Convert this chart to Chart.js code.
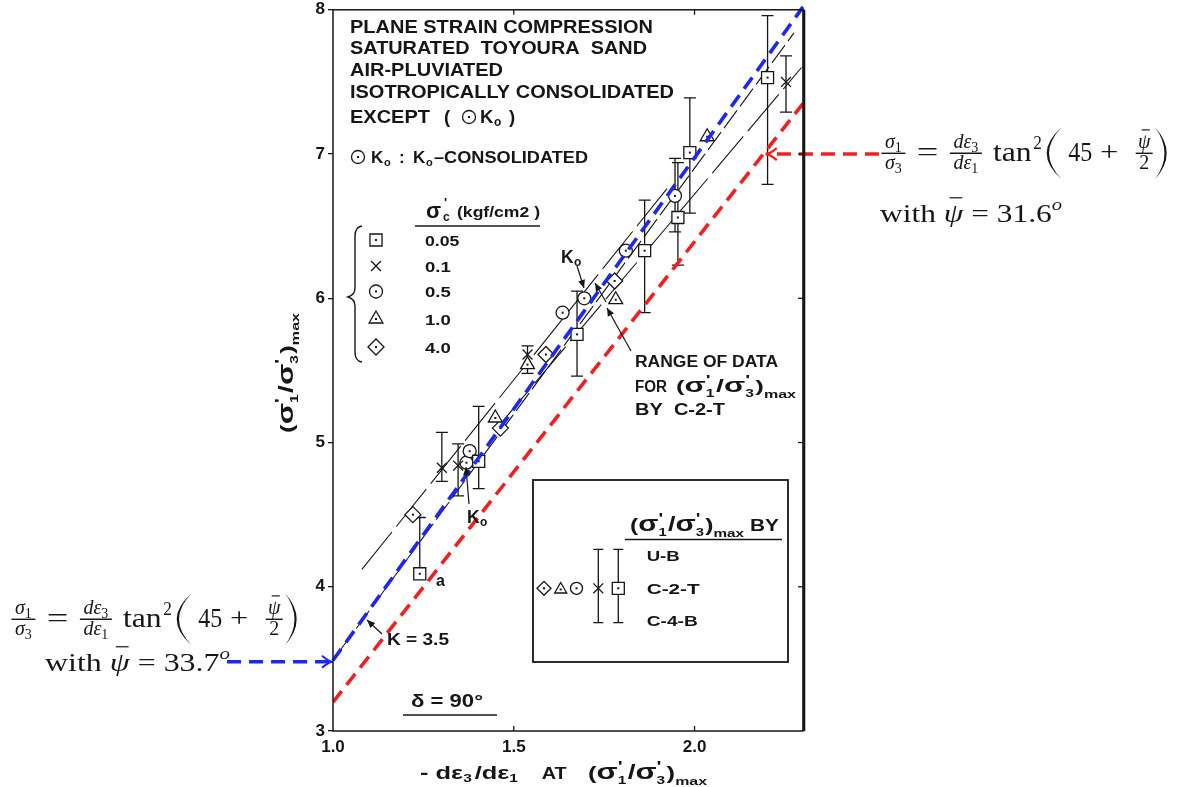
<!DOCTYPE html>
<html>
<head>
<meta charset="utf-8">
<title>Plane strain compression - Toyoura sand</title>
<script src="https://cdn.jsdelivr.net/npm/chart.js@4.4.1/dist/chart.umd.min.js"></script>
<style>
  html, body { margin: 0; padding: 0; background: #fff; }
  canvas { display: block; }
</style>
</head>
<body>
<canvas id="chart" width="1181" height="787"></canvas>
<script>
// axis ticks
const xTicks = [1.0, 1.5, 2.0];
const yTicks = [3, 4, 5, 6, 7, 8];

// confining stress classes (kgf/cm2)
const stressLabels = ['0.05', '0.1', '0.5', '1.0', '4.0'];

// -de3/de1 and (s1/s3)max, with the U-B / C-4-B bars
const sqX = [1.24, 1.403, 1.675, 1.862, 1.954, 1.987, 2.202];
const sqY = [4.09, 4.87, 5.75, 6.33, 6.56, 7.01, 7.53];
const sqLo = [4.09, 4.68, 5.46, 5.90, 6.23, 6.59, 6.79];
const sqHi = [4.48, 5.25, 6.05, 6.68, 6.94, 7.39, 7.96];

const crX = [1.301, 1.346, 1.538, 2.253];
const crY = [4.825, 4.84, 5.61, 7.50];
const crLo = [4.73, 4.63, 5.48, 7.29];
const crHi = [5.07, 4.99, 5.67, 7.68];

const ciX = [1.369, 1.378, 1.635, 1.695, 1.81, 1.946];
const ciY = [4.86, 4.94, 5.90, 6.00, 6.33, 6.71];
const ciLo = [null, null, null, null, null, 6.46];
const ciHi = [null, null, null, null, null, 6.97];

const trX = [1.449, 1.538, 1.782, 2.035];
const trY = [5.17, 5.54, 5.99, 7.12];

const diX = [1.221, 1.463, 1.589, 1.779];
const diY = [4.50, 5.10, 5.61, 6.12];

// flow rule lines (psi = 33.7 blue, 31.6 red) and the arrows pointing at them
const blueX = [1.0, 2.3], blueY = [3.49, 8.02];
const redX = [1.0, 2.3], redY = [3.2, 7.35];
const blueArrowX = [0.707, 1.0], blueArrowY = [3.48, 3.48];
const redArrowX = [2.51, 2.197], redArrowY = [7.0, 7.0];

// K = 3.5 line and the range of C-2-T data
const kX = [1.02, 2.275], kY = [3.56, 7.84];
const upX = [1.08, 1.93], upY = [4.12, 6.78];
const loX = [1.46, 2.296], loY = [5.12, 7.60];

const INK = '#161616';
const BLUE = 'rgb(28,40,235)';
const RED = 'rgb(240,32,32)';

const pts = (xs, ys) => xs.map((x, i) => ({ x: x, y: ys[i] }));
const B = s => 'bold ' + s + 'px "Liberation Sans"';
const rm = s => s + 'px "Liberation Serif"';
const it = s => 'italic ' + s + 'px "Liberation Serif"';

function drawSym(ctx, style, x, y, r, dot) {
  ctx.save();
  ctx.strokeStyle = INK;
  ctx.lineWidth = 1.3;
  ctx.beginPath();
  if (style === 'rect') {
    const h = r * Math.SQRT1_2;
    ctx.rect(x - h, y - h, 2 * h, 2 * h);
  } else if (style === 'circle') {
    ctx.arc(x, y, r, 0, 2 * Math.PI);
  } else if (style === 'triangle') {
    ctx.moveTo(x, y - r);
    ctx.lineTo(x + r * 0.866, y + r * 0.5);
    ctx.lineTo(x - r * 0.866, y + r * 0.5);
    ctx.closePath();
  } else if (style === 'rectRot') {
    ctx.moveTo(x - r, y); ctx.lineTo(x, y - r); ctx.lineTo(x + r, y); ctx.lineTo(x, y + r);
    ctx.closePath();
  } else if (style === 'crossRot') {
    const c = r * Math.SQRT1_2;
    ctx.moveTo(x - c, y - c); ctx.lineTo(x + c, y + c);
    ctx.moveTo(x + c, y - c); ctx.lineTo(x - c, y + c);
  }
  if (style !== 'crossRot') { ctx.fillStyle = '#fff'; ctx.fill(); }
  ctx.stroke();
  if (dot) { ctx.fillStyle = INK; ctx.fillRect(x - 1, y - 1, 2, 2); }
  ctx.restore();
}

// text scaled horizontally to a given width
function fitText(ctx, s, x, y, font, w) {
  ctx.save();
  ctx.font = font;
  const nat = ctx.measureText(s).width;
  const k = w ? w / nat : 1;
  ctx.translate(x, y);
  ctx.scale(k, 1);
  ctx.fillText(s, 0, 0);
  ctx.restore();
  return nat * k;
}

function partsWidth(ctx, parts) {
  const ws = parts.map(p => {
    ctx.font = p.f;
    let pw = ctx.measureText(p.t).width;
    if (p.stack) { ctx.font = p.sf; pw = Math.max(pw, ctx.measureText(p.stack).width); }
    return pw + (p.gap || 0);
  });
  return ws;
}

function drawParts(ctx, parts, x, y, w) {
  const ws = partsWidth(ctx, parts);
  const tot = ws.reduce((a, b) => a + b, 0);
  const k = w ? w / tot : 1;
  ctx.save();
  ctx.translate(x, y);
  ctx.scale(k, 1);
  let cx = 0;
  parts.forEach((p, i) => {
    ctx.font = p.f;
    ctx.fillText(p.t, cx, p.dy || 0);
    if (p.stack) { ctx.font = p.sf; ctx.fillText(p.stack, cx, p.sdy); }
    if (p.bar) {
      ctx.lineWidth = 1.2;
      ctx.beginPath();
      ctx.moveTo(cx + ws[i] * 0.3, -p.sz * 0.92);
      ctx.lineTo(cx + ws[i] * 0.95, -p.sz * 0.92);
      ctx.stroke();
    }
    cx += ws[i];
  });
  ctx.restore();
  return tot * k;
}

// (s'1/s'3)max
function ratioParts(sz) {
  return [
    { t: '(', f: B(sz) },
    { t: 'σ', f: B(sz * 1.2) },
    { t: "'", f: B(sz * 0.8), dy: -sz * 0.45, stack: '1', sf: B(sz * 0.6), sdy: sz * 0.3, gap: 1 },
    { t: '/', f: B(sz * 1.1) },
    { t: 'σ', f: B(sz * 1.2) },
    { t: "'", f: B(sz * 0.8), dy: -sz * 0.45, stack: '3', sf: B(sz * 0.6), sdy: sz * 0.3, gap: 1 },
    { t: ')', f: B(sz) },
    { t: 'max', f: B(sz * 0.62), dy: sz * 0.35 }
  ];
}

function filledHead(ctx, x1, y1, x2, y2, len, half) {
  const a = Math.atan2(y2 - y1, x2 - x1);
  ctx.beginPath();
  ctx.moveTo(x2, y2);
  ctx.lineTo(x2 - len * Math.cos(a) + half * Math.sin(a), y2 - len * Math.sin(a) - half * Math.cos(a));
  ctx.lineTo(x2 - len * Math.cos(a) - half * Math.sin(a), y2 - len * Math.sin(a) + half * Math.cos(a));
  ctx.closePath();
  ctx.fill();
}

function pointer(ctx, x1, y1, x2, y2) {
  ctx.save();
  ctx.strokeStyle = INK; ctx.fillStyle = INK; ctx.lineWidth = 1.2;
  ctx.beginPath(); ctx.moveTo(x1, y1); ctx.lineTo(x2, y2); ctx.stroke();
  filledHead(ctx, x1, y1, x2, y2, 8, 3.5);
  ctx.restore();
}

function hline(ctx, x1, x2, y, lw) {
  ctx.lineWidth = lw;
  ctx.beginPath(); ctx.moveTo(x1, y); ctx.lineTo(x2, y); ctx.stroke();
}

// sigma1/sigma3 = de3/de1 tan^2(45 + psi/2), laid out like the typeset formula
function drawFormula(ctx, x0, yb) {
  ctx.save();
  ctx.fillStyle = INK; ctx.strokeStyle = INK;
  const frac = (cx, bw, num, den) => {
    let w = partsWidth(ctx, num).reduce((a, b) => a + b, 0);
    drawParts(ctx, num, cx - w / 2, yb - 5);
    w = partsWidth(ctx, den).reduce((a, b) => a + b, 0);
    drawParts(ctx, den, cx - w / 2, yb + 16);
    hline(ctx, cx - bw / 2, cx + bw / 2, yb, 1.4);
  };
  frac(x0 + 11.7, 24,
    [{ t: 'σ', f: it(20) }, { t: '1', f: rm(14), dy: 4 }],
    [{ t: 'σ', f: it(20) }, { t: '3', f: rm(14), dy: 4 }]);
  fitText(ctx, '=', x0 + 35, yb + 8, rm(27), 21.6);
  frac(x0 + 84.2, 32,
    [{ t: 'd', f: it(20) }, { t: 'ε', f: it(20) }, { t: '3', f: rm(14), dy: 4 }],
    [{ t: 'd', f: it(20) }, { t: 'ε', f: it(20) }, { t: '1', f: rm(14), dy: 4 }]);
  fitText(ctx, 'tan', x0 + 111.3, yb + 8, rm(27), 38.7);
  fitText(ctx, '2', x0 + 151.6, yb - 4, rm(18), 8.6);
  // large parentheses
  ctx.beginPath();
  ctx.moveTo(x0 + 180, yb - 26);
  ctx.quadraticCurveTo(x0 + 150, yb, x0 + 180, yb + 26);
  ctx.quadraticCurveTo(x0 + 154.6, yb, x0 + 180, yb - 26);
  ctx.fill();
  ctx.beginPath();
  ctx.moveTo(x0 + 273.3, yb - 26);
  ctx.quadraticCurveTo(x0 + 296.7, yb, x0 + 273.3, yb + 26);
  ctx.quadraticCurveTo(x0 + 292.3, yb, x0 + 273.3, yb - 26);
  ctx.fill();
  fitText(ctx, '45', x0 + 186.6, yb + 8, rm(27), 24);
  fitText(ctx, '+', x0 + 218.3, yb + 8, rm(27), 18.3);
  frac(x0 + 262.5, 17,
    [{ t: 'ψ', f: it(20), bar: true, sz: 20 }],
    [{ t: '2', f: rm(20) }]);
  ctx.restore();
}

const annotations = {
  id: 'annotations',
  beforeDatasetsDraw(chart) {
    // error bars
    const ctx = chart.ctx, ys = chart.scales.y;
    ctx.save();
    ctx.strokeStyle = INK; ctx.lineWidth = 1.3;
    chart.data.datasets.forEach((ds, di) => {
      if (!ds.errLo) return;
      chart.getDatasetMeta(di).data.forEach((el, i) => {
        const lo = ds.errLo[i], hi = ds.errHi[i];
        if (lo == null || hi == null) return;
        const a = ys.getPixelForValue(lo), b = ys.getPixelForValue(hi);
        ctx.beginPath();
        ctx.moveTo(el.x, a); ctx.lineTo(el.x, b);
        ctx.moveTo(el.x - 6, a); ctx.lineTo(el.x + 6, a);
        ctx.moveTo(el.x - 6, b); ctx.lineTo(el.x + 6, b);
        ctx.stroke();
      });
    });
    ctx.restore();
  },
  afterDatasetDraw(chart, args) {
    const ds = chart.data.datasets[args.index];
    const ctx = chart.ctx;
    if (ds.centerDot) {
      ctx.save();
      ctx.fillStyle = INK;
      args.meta.data.forEach(el => ctx.fillRect(el.x - 1, el.y - 1, 2, 2));
      ctx.restore();
    }
    if (ds.arrowHead) {
      const d = args.meta.data, p = d[d.length - 2], q = d[d.length - 1];
      const a = Math.atan2(q.y - p.y, q.x - p.x);
      ctx.save();
      ctx.strokeStyle = ds.borderColor; ctx.lineWidth = 2.2;
      ctx.beginPath();
      ctx.moveTo(q.x - 11 * Math.cos(a) + 6 * Math.sin(a), q.y - 11 * Math.sin(a) - 6 * Math.cos(a));
      ctx.quadraticCurveTo(q.x - 4 * Math.cos(a), q.y - 4 * Math.sin(a), q.x, q.y);
      ctx.quadraticCurveTo(q.x - 4 * Math.cos(a), q.y - 4 * Math.sin(a),
        q.x - 11 * Math.cos(a) - 6 * Math.sin(a), q.y - 11 * Math.sin(a) + 6 * Math.cos(a));
      ctx.stroke();
      ctx.restore();
    }
  },
  afterDraw(chart) {
    const ctx = chart.ctx, a = chart.chartArea;
    const xs = chart.scales.x, ys = chart.scales.y;
    ctx.save();
    ctx.fillStyle = INK; ctx.strokeStyle = INK;
    ctx.textBaseline = 'alphabetic'; ctx.textAlign = 'left';

    // frame and inner ticks
    ctx.lineWidth = 1.5;
    ctx.strokeRect(a.left, a.top, a.right - a.left, a.bottom - a.top);
    ctx.lineWidth = 2.6;
    ctx.beginPath(); ctx.moveTo(a.right + 1, a.top); ctx.lineTo(a.right + 1, a.bottom); ctx.stroke();
    ctx.lineWidth = 1.3;
    xTicks.slice(1).forEach(v => {
      const x = xs.getPixelForValue(v);
      ctx.beginPath();
      ctx.moveTo(x, a.bottom); ctx.lineTo(x, a.bottom - 5);
      ctx.moveTo(x, a.top); ctx.lineTo(x, a.top + 5);
      ctx.stroke();
    });
    yTicks.slice(1, -1).forEach(v => {
      const y = ys.getPixelForValue(v);
      ctx.beginPath(); ctx.moveTo(a.right, y); ctx.lineTo(a.right - 5, y); ctx.stroke();
    });

    // axis titles
    const yParts = ratioParts(18);
    ctx.save();
    ctx.translate(293, 373);
    ctx.rotate(-Math.PI / 2);
    drawParts(ctx, yParts, -60, 0, 120);
    ctx.restore();
    drawParts(ctx, [
      { t: '-', f: B(18), gap: 5 },
      { t: 'd', f: B(18) }, { t: 'ε', f: B(18) }, { t: '3', f: B(11), dy: 3, gap: 2 },
      { t: '/', f: B(18) },
      { t: 'd', f: B(18) }, { t: 'ε', f: B(18) }, { t: '1', f: B(11), dy: 3 }
    ], 420, 779, 98);
    fitText(ctx, 'AT', 541.7, 779, B(17), 25);
    drawParts(ctx, ratioParts(18), 588, 779, 119);

    // header block
    const H = B(18.5);
    fitText(ctx, 'PLANE STRAIN COMPRESSION', 350, 33, H, 303);
    fitText(ctx, 'SATURATED  TOYOURA  SAND', 350, 54, H, 297);
    fitText(ctx, 'AIR-PLUVIATED', 350, 76, H, 153);
    fitText(ctx, 'ISOTROPICALLY CONSOLIDATED', 350, 98, H, 324);
    fitText(ctx, 'EXCEPT', 350, 123, H, 80);
    fitText(ctx, '(', 444, 123, H);
    drawSym(ctx, 'circle', 469, 117, 6.5, true);
    fitText(ctx, 'K', 480, 123, H);
    fitText(ctx, 'o', 494, 126, B(12));
    fitText(ctx, ')', 509, 123, H);

    drawSym(ctx, 'circle', 358, 157, 6.5, true);
    fitText(ctx, 'K', 371, 163, B(17));
    fitText(ctx, 'o', 384, 166, B(11));
    fitText(ctx, ':', 399, 163, B(17));
    fitText(ctx, 'K', 413, 163, B(17));
    fitText(ctx, 'o', 426, 166, B(11));
    fitText(ctx, '–CONSOLIDATED', 434, 163, B(17), 154);

    // confining pressure legend
    fitText(ctx, 'σ', 426, 218, B(22));
    fitText(ctx, "'", 444, 207, B(13));
    fitText(ctx, 'c', 443, 221, B(12));
    fitText(ctx, '(kgf/cm2 )', 457, 217, B(14.5), 83);
    hline(ctx, 415, 540, 226, 1.6);
    const styles = ['rect', 'crossRot', 'circle', 'triangle', 'rectRot'];
    const rad = [8.5, 7, 6.5, 8, 8];
    const rowY = [240, 266, 291.5, 319, 347];
    stressLabels.forEach((lab, i) => {
      drawSym(ctx, styles[i], 376, rowY[i], rad[i], styles[i] !== 'crossRot');
      fitText(ctx, lab, 425, rowY[i] + 5.5, B(15.5), lab.length * 8.6);
    });
    // brace
    ctx.lineWidth = 1.4;
    ctx.beginPath();
    ctx.moveTo(362, 226);
    ctx.quadraticCurveTo(355, 227, 355, 236);
    ctx.lineTo(355, 288);
    ctx.quadraticCurveTo(355, 295, 348, 297);
    ctx.quadraticCurveTo(355, 299, 355, 306);
    ctx.lineTo(355, 352);
    ctx.quadraticCurveTo(355, 361, 362, 362);
    ctx.stroke();

    // labels and pointers inside the plot
    fitText(ctx, 'K', 561, 263, B(17.5));
    fitText(ctx, 'o', 574, 266, B(12));
    pointer(ctx, 577, 266, 584, 288);
    fitText(ctx, 'K', 467, 523, B(17.5));
    fitText(ctx, 'o', 480, 526, B(12));
    pointer(ctx, 469, 504, 466, 467);
    fitText(ctx, 'a', 436, 586, B(16));
    fitText(ctx, 'K = 3.5', 387, 645, B(16.5), 62);
    pointer(ctx, 382, 634, 367, 620);
    fitText(ctx, 'δ = 90°', 411, 707, B(17.5), 72);
    hline(ctx, 403, 497, 715, 1.6);

    fitText(ctx, 'RANGE OF DATA', 635, 367, B(16), 143);
    fitText(ctx, 'FOR', 635, 392, B(16), 32);
    drawParts(ctx, ratioParts(17), 676, 392, 120);
    fitText(ctx, 'BY  C-2-T', 635, 415, B(16), 90);
    pointer(ctx, 631, 351, 607, 308);
    pointer(ctx, 606, 302, 595, 283);

    // bar legend box
    ctx.lineWidth = 1.8;
    ctx.strokeRect(533, 480, 255, 182);
    drawParts(ctx, ratioParts(18), 630, 531, 114);
    fitText(ctx, 'BY', 750, 531, B(17), 29);
    hline(ctx, 625, 782, 539.5, 1.6);
    ctx.lineWidth = 1.3;
    [598.3, 618.3].forEach(x => {
      ctx.beginPath();
      ctx.moveTo(x, 549.3); ctx.lineTo(x, 622.7);
      ctx.moveTo(x - 5, 549.3); ctx.lineTo(x + 5, 549.3);
      ctx.moveTo(x - 5, 622.7); ctx.lineTo(x + 5, 622.7);
      ctx.stroke();
    });
    drawSym(ctx, 'rectRot', 544, 588.3, 7, true);
    drawSym(ctx, 'triangle', 560.7, 589.5, 7, true);
    drawSym(ctx, 'circle', 576.5, 588.3, 6, true);
    drawSym(ctx, 'crossRot', 598.3, 588.3, 7, false);
    drawSym(ctx, 'rect', 618.3, 588.3, 8.5, true);
    fitText(ctx, 'U-B', 646.7, 560.5, B(15.5), 33);
    fitText(ctx, 'C-2-T', 646.7, 594, B(15.5), 53);
    fitText(ctx, 'C-4-B', 646.7, 626, B(15.5), 51);

    // flow rule formulas outside the plot
    drawFormula(ctx, 11.7, 619.3);
    drawParts(ctx, [
      { t: 'with ', f: rm(26) }, { t: 'ψ', f: it(26), bar: true, sz: 26 },
      { t: ' = 33.7', f: rm(26) }, { t: 'o', f: it(17), dy: -12 }
    ], 45, 670.7, 185);
    drawFormula(ctx, 881.7, 153.3);
    drawParts(ctx, [
      { t: 'with ', f: rm(26) }, { t: 'ψ', f: it(26), bar: true, sz: 26 },
      { t: ' = 31.6', f: rm(26) }, { t: 'o', f: it(17), dy: -12 }
    ], 880, 221.7, 182);

    ctx.restore();
  }
};

const marker = (label, xs, ys, style, r, dot, lo, hi) => ({
  label: label,
  data: pts(xs, ys),
  pointStyle: style,
  pointRadius: r,
  pointBorderColor: INK,
  pointBackgroundColor: '#fff',
  pointBorderWidth: 1.3,
  showLine: false,
  centerDot: dot,
  errLo: lo,
  errHi: hi
});

const line = (xs, ys, color, width, dash, extra) => Object.assign({
  data: pts(xs, ys),
  showLine: true,
  borderColor: color,
  borderWidth: width,
  borderDash: dash,
  pointRadius: 0,
  fill: false
}, extra || {});

new Chart(document.getElementById('chart'), {
  type: 'scatter',
  data: {
    datasets: [
      line(blueX, blueY, BLUE, 3.6, [14, 8], { clip: false }),
      line(redX, redY, RED, 3.6, [14, 8]),
      line(blueArrowX, blueArrowY, BLUE, 3.6, [14, 8], { clip: false, arrowHead: true }),
      line(redArrowX, redArrowY, RED, 3.6, [14, 8], { clip: false, arrowHead: true }),
      marker(stressLabels[0], sqX, sqY, 'rect', 8.5, true, sqLo, sqHi),
      marker(stressLabels[1], crX, crY, 'crossRot', 7, false, crLo, crHi),
      marker(stressLabels[2], ciX, ciY, 'circle', 6.5, true, ciLo, ciHi),
      marker(stressLabels[3], trX, trY, 'triangle', 8, true),
      marker(stressLabels[4], diX, diY, 'rectRot', 8, true),
      line(kX, kY, INK, 1.1, [22, 5]),
      line(upX, upY, INK, 1.1, [48, 7]),
      line(loX, loY, INK, 1.1, [48, 7])
    ]
  },
  options: {
    responsive: false,
    animation: false,
    events: [],
    layout: { padding: { left: 270, right: 378, top: 7, bottom: 0 } },
    plugins: { legend: { display: false }, tooltip: { enabled: false } },
    scales: {
      x: {
        type: 'linear', min: 1.0, max: 2.3,
        afterBuildTicks: s => { s.ticks = xTicks.map(v => ({ value: v })); },
        afterFit: s => { s.height = 56; s.paddingLeft = 0; s.paddingRight = 0; },
        ticks: {
          callback: v => Number(v).toFixed(1),
          font: { family: 'Liberation Sans', size: 17, weight: 'bold' },
          color: INK, padding: 6, maxRotation: 0, autoSkip: false
        },
        grid: { drawOnChartArea: false, drawTicks: false },
        border: { display: false }
      },
      y: {
        type: 'linear', min: 3, max: 8,
        afterBuildTicks: s => { s.ticks = yTicks.map(v => ({ value: v })); },
        afterFit: s => { s.width = 63; s.paddingTop = 0; s.paddingBottom = 0; },
        ticks: {
          font: { family: 'Liberation Sans', size: 17, weight: 'bold' },
          color: INK, padding: 3, autoSkip: false
        },
        grid: { drawOnChartArea: false, drawTicks: true, tickLength: 5, color: INK, lineWidth: 1.3 },
        border: { display: false }
      }
    }
  },
  plugins: [annotations]
});
</script>
</body>
</html>
